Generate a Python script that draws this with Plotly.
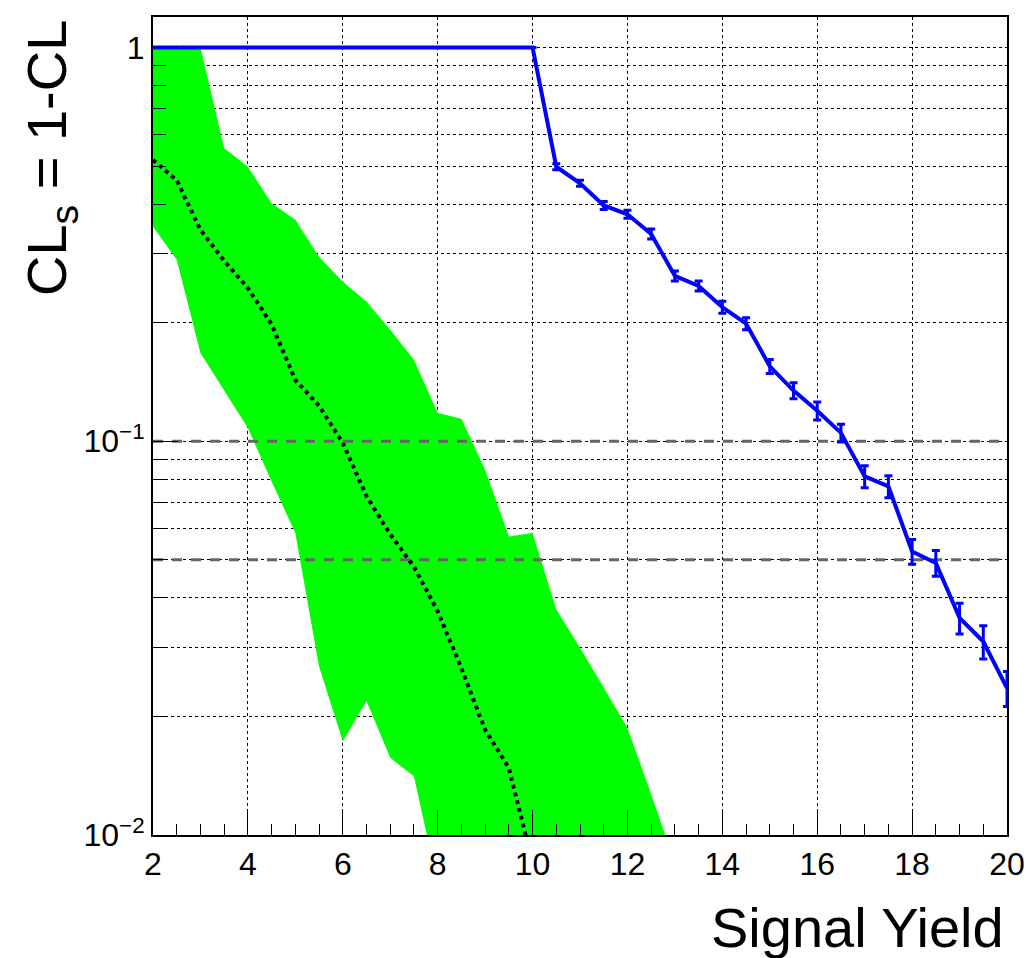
import plotly.graph_objects as go

# ---------------- data ----------------
obs_x = [2, 10, 10.5, 11, 11.5, 12, 12.5, 13, 13.5, 14, 14.5, 15, 15.5, 16, 16.5,
         17, 17.5, 18, 18.5, 19, 19.5, 20]
obs_y = [1.0, 1.0, 0.498, 0.452, 0.397, 0.377, 0.336, 0.263, 0.248, 0.219, 0.199,
         0.155, 0.1345, 0.1195, 0.105, 0.0814, 0.0768, 0.0525, 0.0491, 0.0356, 0.031, 0.0236]
obs_err = [float("nan"), float("nan"), 0.0087, 0.0079, 0.0093, 0.0088, 0.0098, 0.0077,
           0.0072, 0.0077, 0.0070, 0.0063, 0.0063, 0.0063, 0.0055, 0.0052, 0.0049,
           0.0038, 0.0037, 0.0032, 0.0030, 0.0024]

band_up_x = [2, 2.5, 3, 3.5, 4, 4.5, 5, 5.5, 6, 6.5, 7, 7.5, 8, 8.5, 9, 9.5, 10,
             10.5, 11, 11.5, 12, 12.5, 13]
band_up_y = [1.0, 1.0, 1.0, 0.555, 0.498, 0.402, 0.365, 0.294, 0.254, 0.226, 0.192,
             0.161, 0.118, 0.114, 0.0847, 0.0573, 0.0585, 0.0374, 0.0299, 0.0237,
             0.0187, 0.0127, 0.0085]
band_lo_x = [2, 2.5, 3, 3.5, 4, 4.5, 5, 5.5, 6, 6.5, 7, 7.5, 8]
band_lo_y = [0.351, 0.289, 0.1675, 0.134, 0.108, 0.079, 0.0585, 0.0268, 0.0173,
             0.0219, 0.0157, 0.0141, 0.0075]

exp_x = [2, 2.5, 3, 3.5, 4, 4.5, 5, 5.5, 6, 6.5, 7, 7.5, 8, 8.5, 9, 9.5, 10]
exp_y = [0.518, 0.46, 0.344, 0.287, 0.245, 0.198, 0.143, 0.123, 0.099, 0.0725,
         0.058, 0.048, 0.037, 0.0265, 0.0185, 0.0148, 0.0085]

cl_levels = [0.1, 0.05]
x_range = [2, 20]
x_ticks = [2, 4, 6, 8, 10, 12, 14, 16, 18, 20]
y_tickvals = [0.01, 0.1, 1]
y_ticktext = ["10<sup>\u22122</sup>", "10<sup>\u22121</sup>", "1"]
y_minor = [m * 10.0 ** e for e in (-2, -1) for m in range(2, 10)]

FONT = "Liberation Sans, Arial, Helvetica, sans-serif"

fig = go.Figure()

# green band
fig.add_trace(go.Scatter(
    x=band_up_x + band_lo_x[::-1],
    y=band_up_y + band_lo_y[::-1],
    fill="toself", fillcolor="#00ff00", line=dict(width=0, color="#00ff00"),
    mode="lines", hoverinfo="skip", showlegend=False))

# expected (median)
fig.add_trace(go.Scatter(
    x=exp_x, y=exp_y, mode="lines",
    line=dict(color="black", width=4, dash="dot"), showlegend=False))

# CL reference lines
for lvl in cl_levels:
    fig.add_trace(go.Scatter(
        x=x_range, y=[lvl, lvl], mode="lines",
        line=dict(color="#666666", width=3, dash="10px,9px"), showlegend=False))

# observed
fig.add_trace(go.Scatter(
    x=obs_x, y=obs_y, mode="lines",
    line=dict(color="#0000ff", width=4),
    error_y=dict(type="data", array=obs_err, visible=True, color="#0000ff",
                 thickness=3, width=4),
    showlegend=False))

fig.update_layout(
    width=1026, height=958,
    margin=dict(l=153, r=19, t=17, b=123, autoexpand=False),
    paper_bgcolor="white", plot_bgcolor="white",
    font=dict(family=FONT, size=32, color="black"),
    xaxis=dict(
        range=x_range, tickmode="array", tickvals=x_ticks, automargin=False,
        ticks="inside", ticklen=25, tickwidth=1, tickcolor="black",
        showline=True, linecolor="black", linewidth=2, mirror=True,
        showgrid=True, gridcolor="black", griddash="dot", gridwidth=1,
        zeroline=False, tickfont=dict(size=32, family=FONT),
        minor=dict(dtick=0.5, ticks="inside", ticklen=11, tickcolor="black",
                   tickwidth=1, showgrid=False),
    ),
    yaxis=dict(
        type="log", range=[-2, 0.0774], automargin=False,
        tickmode="array", tickvals=y_tickvals, ticktext=y_ticktext,
        ticks="inside", ticklen=25, tickwidth=1, tickcolor="black",
        showline=True, linecolor="black", linewidth=2, mirror=True,
        showgrid=True, gridcolor="black", griddash="dot", gridwidth=1,
        zeroline=False, tickfont=dict(size=32, family=FONT),
        minor=dict(tickmode="array", tickvals=y_minor, ticks="inside", ticklen=13,
                   tickcolor="black", tickwidth=1,
                   showgrid=True, gridcolor="black", griddash="dot", gridwidth=1),
    ),
    annotations=[
        dict(text="Signal Yield", xref="paper", yref="paper",
             x=0.9988, y=-0.1125, xanchor="right", yanchor="middle",
             showarrow=False, font=dict(size=56, family=FONT, color="black")),
        dict(text="CL<sub>s</sub> = 1-CL", xref="paper", yref="paper",
             x=-0.1206, y=0.8276, xanchor="center", yanchor="middle",
             textangle=-90, showarrow=False,
             font=dict(size=56, family=FONT, color="black")),
    ],
)

fig.write_html("out.html")
